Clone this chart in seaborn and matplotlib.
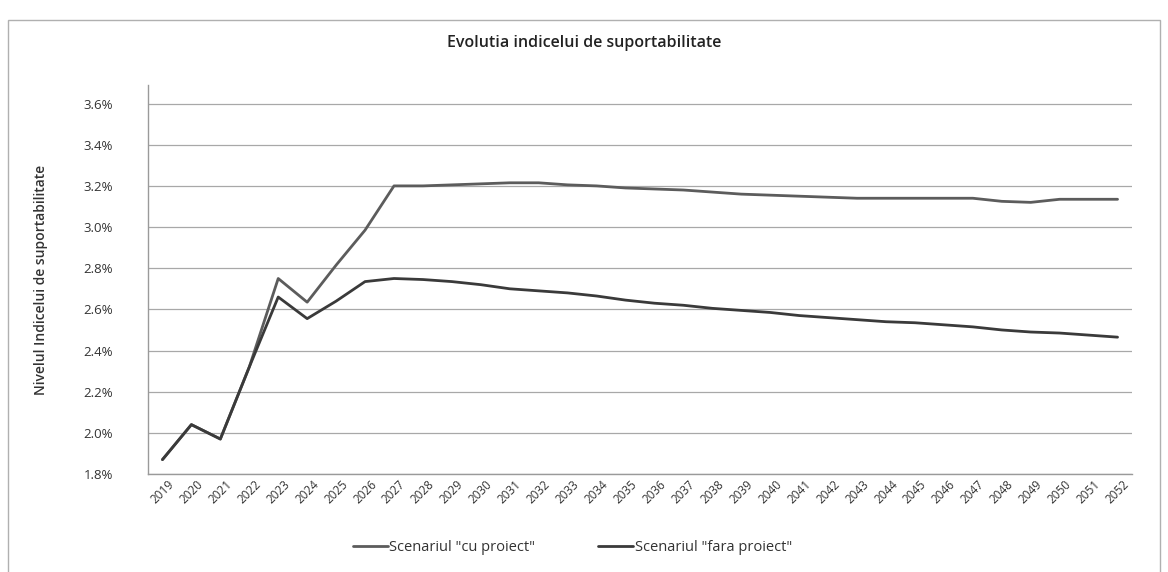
import pandas as pd
import seaborn as sns
import matplotlib.pyplot as plt
from matplotlib.patches import Rectangle
from matplotlib.ticker import FuncFormatter

# -- Data (values in %)
years = list(range(2019, 2053))

cu_proiect = [1.87, 2.04, 1.97, 2.32, 2.75, 2.635, 2.815, 2.985, 3.20, 3.20,
              3.205, 3.21, 3.215, 3.215, 3.205, 3.20, 3.19, 3.185, 3.18, 3.17,
              3.16, 3.155, 3.15, 3.145, 3.14, 3.14, 3.14, 3.14, 3.14, 3.125,
              3.12, 3.135, 3.135, 3.135]

fara_proiect = [1.87, 2.04, 1.97, 2.32, 2.66, 2.555, 2.64, 2.735, 2.75, 2.745,
                2.735, 2.72, 2.70, 2.69, 2.68, 2.665, 2.645, 2.63, 2.62, 2.605,
                2.595, 2.585, 2.57, 2.56, 2.55, 2.54, 2.535, 2.525, 2.515, 2.50,
                2.49, 2.485, 2.475, 2.465]

series_names = ['Scenariul "cu proiect"', 'Scenariul "fara proiect"']
y_ticks = [1.8, 2.0, 2.2, 2.4, 2.6, 2.8, 3.0, 3.2, 3.4, 3.6]
line_colors = ["#5c5c5c", "#3a3a3a"]

# -- Long-form table for seaborn
df = pd.concat([
    pd.DataFrame({"pos": range(len(years)), "value": cu_proiect, "scenariu": series_names[0]}),
    pd.DataFrame({"pos": range(len(years)), "value": fara_proiect, "scenariu": series_names[1]}),
])

sns.set_style("white")
plt.rcParams['font.family'] = ['Open Sans', 'DejaVu Sans']

fig = plt.figure(figsize=(11.68, 5.72), dpi=100)
ax = fig.add_axes([0.1267, 0.1713, 0.8425, 0.68])

# outer chart frame
fig.patches.append(Rectangle((0.007, -0.01), 0.986, 0.975, transform=fig.transFigure,
                             fill=False, edgecolor="#b0b0b0", linewidth=1.0))

sns.lineplot(data=df, x="pos", y="value", hue="scenariu", ax=ax,
             palette=line_colors, linewidth=2.0, legend=False)

ax.set_xlim(-0.5, len(years) - 0.5)
ax.set_ylim(1.8, 3.69)
ax.set_yticks(y_ticks)
ax.yaxis.set_major_formatter(FuncFormatter(lambda v, _: f"{v:.1f}%"))
ax.set_xticks(range(len(years)))
ax.set_xticklabels([str(y) for y in years], rotation=45, fontsize=8.5,
                   color="#333333", ha="center")
ax.tick_params(axis="y", labelsize=9.5, colors="#333333", length=0, pad=25)
ax.tick_params(axis="x", length=0, pad=3)

ax.grid(axis="y", color="#a8a8a8", linewidth=0.9)
ax.grid(axis="x", visible=False)
for s in ["top", "right"]:
    ax.spines[s].set_visible(False)
for s in ["left", "bottom"]:
    ax.spines[s].set_color("#9a9a9a")
    ax.spines[s].set_linewidth(1.0)

ax.set_xlabel("")
ax.set_ylabel("Nivelul Indicelui de suportabilitate", fontsize=10,
              fontweight="semibold", color="#333333", labelpad=26)

fig.text(0.5, 0.925, "Evolutia indicelui de suportabilitate", ha="center",
         va="center", fontsize=11.5, color="#222222", fontweight="semibold")

handles = [plt.Line2D([], [], color=c, linewidth=2.0) for c in line_colors]
fig.legend(handles, series_names, loc="center", bbox_to_anchor=(0.49, 0.042),
           ncol=2, frameon=False, fontsize=10.5, handlelength=2.4,
           handletextpad=0.1, columnspacing=4.3, labelcolor="#333333")

fig.savefig("out.png", dpi=100)
